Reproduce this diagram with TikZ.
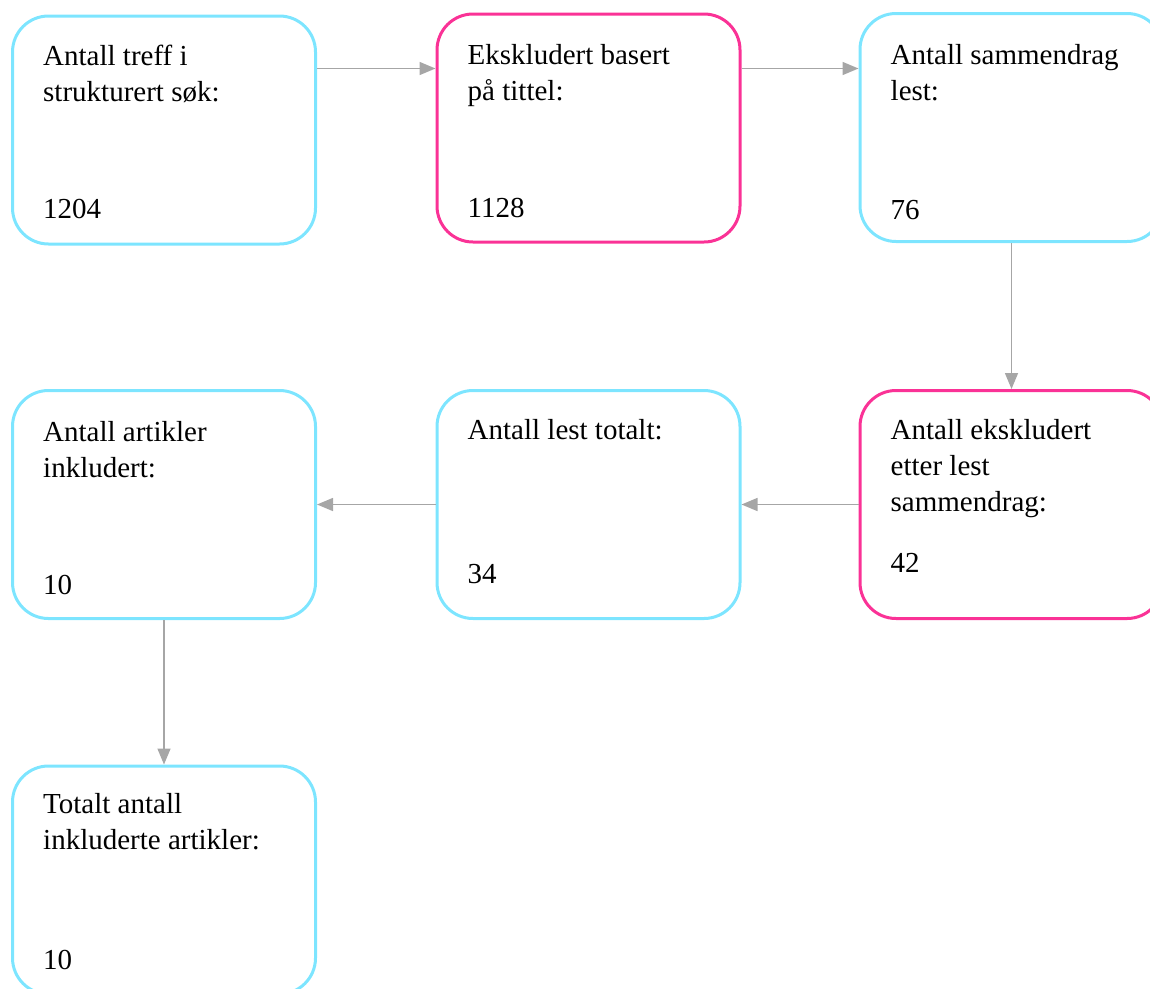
\documentclass[tikz,border=0pt]{standalone}
\usepackage{fontspec}
\setmainfont{Liberation Serif}
\usetikzlibrary{arrows.meta}
\definecolor{boxcyan}{RGB}{125,229,255}
\definecolor{boxpink}{RGB}{250,50,150}
\definecolor{flowgray}{RGB}{166,166,166}
\begin{document}
\begin{tikzpicture}[x=1pt,y=1pt,
  box/.style={draw, line width=3pt, rounded corners=36pt, minimum width=303pt, minimum height=228pt},
  title/.style={anchor=base west, align=left, font=\fontsize{29}{36}\selectfont},
  num/.style={anchor=base west, font=\fontsize{29}{36}\selectfont},
  flow/.style={draw=flowgray, line width=1.5pt, -{Triangle[length=16pt,width=13pt]}, fill=flowgray}]
\tikzstyle{every node}+=[inner sep=0pt]
\useasboundingbox (0,0) rectangle (1150,-988);
% boxes
\node [box, draw=boxcyan] (b1) at (164,-130) {};
\node [box, draw=boxpink] (b2) at (588.5,-128) {};
\node [box, draw=boxcyan] (b3) at (1011.5,-127.5) {};
\node [box, draw=boxcyan] (b4) at (164,-504.5) {};
\node [box, draw=boxcyan] (b5) at (588.5,-504.5) {};
\node [box, draw=boxpink] (b6) at (1011.5,-504.5) {};
\node [box, draw=boxcyan] (b7) at (164,-880) {};
% texts (base = last line)
\node [title] (t1) at ([shift={(32,-87)}]b1.north west) {Antall treff i\\strukturert søk:};
\node [num] (n1) at ([shift={(32,27)}]b1.south west) {1204};
\node [title] (t2) at ([shift={(32,-88)}]b2.north west) {Ekskludert basert\\på tittel:};
\node [num] (n2) at ([shift={(32,26)}]b2.south west) {1128};
\node [title] (t3) at ([shift={(32,-88)}]b3.north west) {Antall sammendrag\\lest:};
\node [num] (n3) at ([shift={(32,24)}]b3.south west) {76};
\node [title] (t4) at ([shift={(32,-88)}]b4.north west) {Antall artikler\\inkludert:};
\node [num] (n4) at ([shift={(32,26)}]b4.south west) {10};
\node [title] (t5) at ([shift={(32,-50)}]b5.north west) {Antall lest totalt:};
\node [num] (n5) at ([shift={(32,37)}]b5.south west) {34};
\node [title] (t6) at ([shift={(32,-122)}]b6.north west) {Antall ekskludert\\etter lest\\sammendrag:};
\node [num] (n6) at ([shift={(32,48)}]b6.south west) {42};
\node [title] (t7) at ([shift={(32,-85)}]b7.north west) {Totalt antall\\inkluderte artikler:};
\node [num] (n7) at ([shift={(32,26)}]b7.south west) {10};
% arrows
\coordinate (s12) at ([yshift=-54pt]b1.north east);
\coordinate (s23) at ([yshift=-56pt]b2.north east);
\draw [flow] (s12) -- (s12 -| b2.west);
\draw [flow] (s23) -- (s23 -| b3.west);
\draw [flow] (b3.south) -- (b6.north);
\draw [flow] (b6.west) -- (b5.east);
\draw [flow] (b5.west) -- (b4.east);
\draw [flow] (b4.south) -- (b7.north);
\end{tikzpicture}
\end{document}
